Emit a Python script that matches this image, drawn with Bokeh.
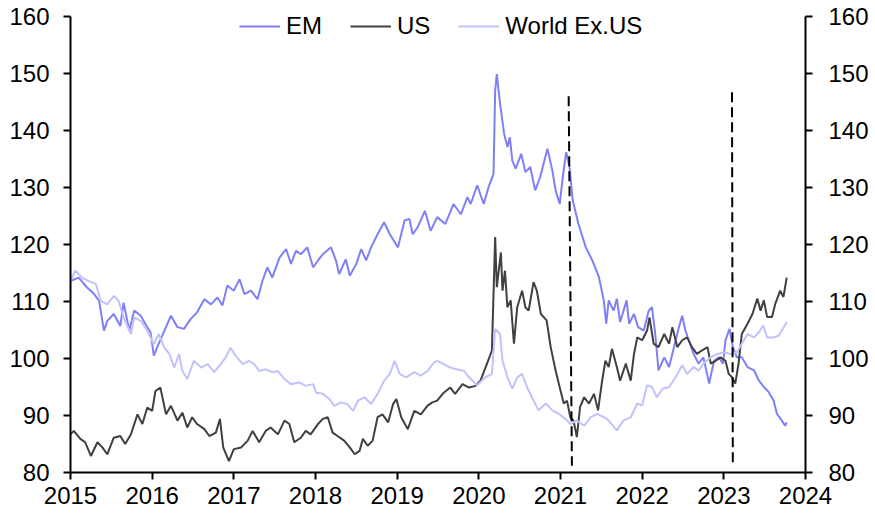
from bokeh.plotting import figure
from bokeh.models import LinearAxis, FixedTicker, Legend, LegendItem, Range1d
from bokeh.embed import file_html
from bokeh.resources import INLINE

# ---- data (decimal years) ----
em_x = [2015.00, 2015.10, 2015.20, 2015.29, 2015.35, 2015.41, 2015.45, 2015.53, 2015.61, 2015.65,
        2015.72, 2015.78, 2015.86, 2015.94, 2015.98, 2016.02, 2016.06, 2016.15, 2016.23, 2016.31,
        2016.39, 2016.47, 2016.55, 2016.64, 2016.72, 2016.80, 2016.86, 2016.92, 2017.00, 2017.07,
        2017.13, 2017.21, 2017.29, 2017.35, 2017.41, 2017.47, 2017.56, 2017.64, 2017.70, 2017.76,
        2017.82, 2017.90, 2017.97, 2018.03, 2018.09, 2018.19, 2018.25, 2018.29, 2018.37, 2018.42,
        2018.50, 2018.56, 2018.62, 2018.68, 2018.76, 2018.84, 2018.91, 2019.01, 2019.09, 2019.15,
        2019.19, 2019.25, 2019.34, 2019.41, 2019.49, 2019.59, 2019.69, 2019.78, 2019.86, 2019.90,
        2019.98, 2020.06, 2020.12, 2020.18, 2020.20, 2020.22, 2020.26, 2020.31, 2020.35, 2020.38,
        2020.41, 2020.45, 2020.52, 2020.57, 2020.63, 2020.69, 2020.75, 2020.84, 2020.90, 2020.94,
        2020.99, 2021.03, 2021.07, 2021.11, 2021.15, 2021.22, 2021.31, 2021.39, 2021.47, 2021.53,
        2021.56, 2021.59, 2021.65, 2021.69, 2021.73, 2021.81, 2021.84, 2021.90, 2021.95, 2022.02,
        2022.08, 2022.12, 2022.16, 2022.20, 2022.27, 2022.33, 2022.39, 2022.45, 2022.49, 2022.53,
        2022.57, 2022.63, 2022.69, 2022.75, 2022.82, 2022.88, 2022.94, 2022.99, 2023.02, 2023.07,
        2023.11, 2023.16, 2023.22, 2023.29, 2023.37, 2023.43, 2023.49, 2023.55, 2023.61, 2023.65,
        2023.71, 2023.75, 2023.77]
em_y = [113.6, 114.2, 112.5, 111.3, 110.1, 104.9, 106.6, 107.8, 105.7, 109.8,
        104.9, 108.4, 107.5, 105.5, 104.6, 100.5, 101.9, 104.9, 107.5, 105.5,
        105.2, 106.9, 108.1, 110.4, 109.5, 110.7, 109.3, 112.8, 111.9, 113.9,
        111.3, 111.9, 110.4, 113.6, 116.0, 114.2, 117.7, 119.2, 116.6, 118.9,
        118.3, 119.5, 116.0, 117.2, 118.3, 119.5, 117.2, 114.8, 117.4, 114.5,
        116.6, 119.2, 117.2, 119.5, 121.8, 123.9, 121.8, 119.5, 124.2, 124.5,
        121.8, 123.0, 125.9, 122.4, 124.8, 123.6, 127.1, 125.3, 128.3, 127.1,
        130.4, 127.1, 130.1, 132.4, 147.0, 149.9, 144.7, 139.4, 137.1, 138.8,
        134.7, 133.3, 135.9, 132.7, 133.6, 129.5, 131.8, 136.8, 133.0, 129.5,
        127.1, 132.1, 136.2, 133.6, 127.7, 123.6, 119.5, 117.2, 114.3, 110.2,
        106.1, 110.2, 108.4, 110.5, 106.4, 110.2, 106.1, 107.8, 105.5, 104.9,
        108.4, 109.0, 104.3, 97.9, 100.2, 98.5, 102.0, 105.5, 107.5, 104.9,
        103.2, 100.8, 99.1, 100.2, 95.6, 99.6, 100.2, 99.1, 103.2, 105.2,
        102.0, 100.2, 100.2, 98.5, 97.9, 96.1, 95.0, 94.1, 92.6, 90.3,
        89.1, 88.2, 88.8]

us_x = [2015.00, 2015.04, 2015.12, 2015.18, 2015.25, 2015.33, 2015.39, 2015.45, 2015.53, 2015.61,
        2015.67, 2015.74, 2015.82, 2015.88, 2015.94, 2016.00, 2016.04, 2016.10, 2016.17, 2016.23,
        2016.31, 2016.37, 2016.43, 2016.49, 2016.55, 2016.64, 2016.70, 2016.78, 2016.83, 2016.87,
        2016.94, 2017.00, 2017.09, 2017.17, 2017.23, 2017.31, 2017.39, 2017.45, 2017.54, 2017.62,
        2017.68, 2017.74, 2017.82, 2017.88, 2017.94, 2018.03, 2018.09, 2018.15, 2018.21, 2018.27,
        2018.35, 2018.42, 2018.48, 2018.54, 2018.58, 2018.64, 2018.70, 2018.76, 2018.82, 2018.89,
        2018.95, 2018.99, 2019.05, 2019.13, 2019.21, 2019.29, 2019.37, 2019.43, 2019.49, 2019.57,
        2019.65, 2019.71, 2019.80, 2019.88, 2019.96, 2020.02, 2020.10, 2020.16, 2020.20, 2020.22,
        2020.27, 2020.29, 2020.32, 2020.35, 2020.39, 2020.43, 2020.47, 2020.53, 2020.57, 2020.61,
        2020.67, 2020.71, 2020.76, 2020.83, 2020.88, 2020.94, 2021.00, 2021.04, 2021.08, 2021.12,
        2021.16, 2021.20, 2021.24, 2021.29, 2021.35, 2021.41, 2021.46, 2021.51, 2021.55, 2021.59,
        2021.63, 2021.69, 2021.73, 2021.80, 2021.86, 2021.90, 2021.94, 2022.00, 2022.06, 2022.09,
        2022.14, 2022.20, 2022.27, 2022.33, 2022.37, 2022.43, 2022.49, 2022.55, 2022.61, 2022.67,
        2022.73, 2022.80, 2022.84, 2022.90, 2022.96, 2023.02, 2023.06, 2023.10, 2023.14, 2023.18,
        2023.22, 2023.29, 2023.35, 2023.41, 2023.45, 2023.49, 2023.53, 2023.59, 2023.63, 2023.69,
        2023.73, 2023.77]
us_y = [86.7, 87.3, 85.9, 85.3, 82.9, 85.3, 84.4, 83.2, 86.1, 86.4,
        85.0, 86.7, 90.2, 88.5, 91.4, 90.8, 94.3, 94.9, 90.2, 91.7,
        89.1, 90.5, 87.9, 89.7, 88.5, 87.6, 86.4, 87.0, 89.4, 84.4,
        82.0, 84.1, 84.4, 85.6, 87.3, 85.3, 87.3, 87.9, 86.7, 89.1,
        88.5, 85.3, 86.1, 87.3, 86.7, 88.5, 89.4, 89.7, 87.0, 86.4,
        85.6, 84.4, 83.2, 83.8, 85.9, 84.7, 85.6, 89.7, 90.2, 88.8,
        92.0, 92.9, 89.7, 87.6, 90.8, 90.2, 91.7, 92.3, 92.6, 94.0,
        94.9, 93.8, 95.5, 94.9, 95.2, 96.1, 99.1, 101.4, 121.3, 112.5,
        118.6, 111.9, 115.4, 109.0, 110.2, 102.6, 109.0, 111.9, 109.0, 108.4,
        113.4, 111.9, 107.8, 106.7, 102.0, 97.9, 94.4, 92.1, 92.6, 89.7,
        89.1, 86.2, 91.5, 93.2, 92.1, 93.8, 90.9, 96.1, 99.6, 98.5,
        101.7, 98.5, 96.1, 99.1, 96.1, 100.8, 103.7, 103.2, 104.9, 107.2,
        102.6, 102.0, 104.3, 102.6, 105.5, 102.0, 103.2, 103.7, 102.0, 100.8,
        101.4, 102.0, 99.1, 99.6, 100.2, 99.6, 97.3, 96.7, 95.6, 99.1,
        104.3, 106.1, 107.8, 110.5, 108.4, 110.2, 107.3, 107.3, 109.6, 111.9,
        110.8, 114.2]

wx_x = [2015.00, 2015.06, 2015.14, 2015.22, 2015.31, 2015.37, 2015.45, 2015.53, 2015.59, 2015.65,
        2015.74, 2015.78, 2015.86, 2015.94, 2016.02, 2016.08, 2016.15, 2016.21, 2016.27, 2016.33,
        2016.37, 2016.43, 2016.51, 2016.60, 2016.68, 2016.76, 2016.84, 2016.90, 2016.96, 2017.02,
        2017.11, 2017.19, 2017.25, 2017.31, 2017.39, 2017.47, 2017.54, 2017.62, 2017.70, 2017.80,
        2017.88, 2017.97, 2018.01, 2018.09, 2018.17, 2018.23, 2018.31, 2018.39, 2018.46, 2018.52,
        2018.60, 2018.68, 2018.76, 2018.84, 2018.91, 2018.97, 2019.03, 2019.11, 2019.21, 2019.29,
        2019.37, 2019.45, 2019.49, 2019.57, 2019.65, 2019.73, 2019.82, 2019.88, 2019.98, 2020.08,
        2020.16, 2020.20, 2020.26, 2020.29, 2020.35, 2020.41, 2020.47, 2020.53, 2020.59, 2020.65,
        2020.73, 2020.82, 2020.90, 2020.98, 2021.06, 2021.12, 2021.20, 2021.29, 2021.37, 2021.45,
        2021.57, 2021.69, 2021.77, 2021.86, 2021.94, 2022.00, 2022.06, 2022.12, 2022.18, 2022.25,
        2022.33, 2022.41, 2022.49, 2022.55, 2022.63, 2022.69, 2022.75, 2022.84, 2022.92, 2023.00,
        2023.08, 2023.16, 2023.22, 2023.29, 2023.37, 2023.43, 2023.48, 2023.53, 2023.61, 2023.67,
        2023.71, 2023.77]
wx_y = [113.6, 115.4, 114.2, 113.6, 113.1, 110.1, 109.5, 111.0, 110.1, 107.2,
        104.3, 107.2, 106.6, 104.9, 102.5, 104.3, 101.9, 100.8, 98.4, 100.8,
        97.8, 96.4, 99.6, 98.4, 99.0, 97.6, 99.0, 100.2, 101.9, 100.5,
        99.0, 99.6, 99.0, 97.8, 98.1, 97.6, 97.8, 96.4, 95.5, 95.8,
        95.2, 95.5, 94.0, 93.8, 92.9, 91.7, 92.3, 92.0, 90.8, 92.6,
        93.2, 92.0, 93.8, 96.1, 97.3, 99.6, 97.3, 96.7, 97.6, 97.0,
        97.8, 99.3, 99.6, 99.0, 98.4, 98.1, 97.8, 96.7, 95.3, 96.7,
        97.3, 105.2, 104.3, 99.6, 96.7, 94.7, 96.7, 97.3, 95.0, 93.2,
        90.9, 92.1, 90.9, 90.3, 89.4, 88.5, 89.1, 88.2, 89.7, 90.3,
        89.4, 87.4, 89.1, 89.7, 92.1, 91.8, 95.3, 95.0, 93.2, 94.7,
        95.0, 96.7, 98.8, 97.3, 98.5, 97.9, 99.1, 100.2, 100.8, 101.1,
        100.8, 101.1, 102.6, 104.3, 103.7, 104.6, 105.8, 103.7, 103.7, 104.0,
        104.9, 106.4]

series_names = ["EM", "US", "World Ex.US"]
series_colors = ["#7f7ff6", "#404040", "#c2c2fb"]

x_ticks = [2015, 2016, 2017, 2018, 2019, 2020, 2021, 2022, 2023, 2024]
x_tick_labels = ["2015", "2016", "2017", "2018", "2019", "2020", "2021", "2022", "2023", "2024"]
y_ticks = [80, 90, 100, 110, 120, 130, 140, 150, 160]
y_axis_bounds = (80, 160)

# dashed event markers
vline_x_top = [2021.10, 2023.10]
vline_x_bottom = [2021.14, 2023.11]
vline_y_top = [146.0, 146.7]
vline_y_bottom = [81.2, 81.6]

FONT = "Liberation Sans"

# y range extends slightly above 160 (axis lines stop at 160) so the legend sits inside the frame
p = figure(width=875, height=514, x_range=Range1d(2015, 2024), y_range=Range1d(80, 161.93),
           output_backend="svg", toolbar_location=None,
           min_border_left=70, min_border_right=70, min_border_top=5, min_border_bottom=42)
p.outline_line_color = None
p.xgrid.visible = False
p.ygrid.visible = False
p.background_fill_color = "white"
p.border_fill_color = "white"

def style_axis(ax):
    ax.axis_line_width = 2
    ax.axis_line_color = "black"
    ax.major_tick_line_width = 2
    ax.major_tick_line_color = "black"
    ax.major_tick_in = 0
    ax.major_tick_out = 7
    ax.minor_tick_line_color = None
    ax.major_label_text_font = FONT
    ax.major_label_text_font_size = "24px"
    ax.major_label_text_color = "black"

p.xaxis.ticker = FixedTicker(ticks=x_ticks)
p.xaxis.major_label_overrides = {t: l for t, l in zip(x_ticks, x_tick_labels)}
p.xaxis.major_label_standoff = 7
style_axis(p.xaxis[0])

p.yaxis.ticker = FixedTicker(ticks=y_ticks)
p.yaxis.bounds = y_axis_bounds
p.yaxis.major_label_standoff = 14
style_axis(p.yaxis[0])

right = LinearAxis(ticker=FixedTicker(ticks=y_ticks), bounds=y_axis_bounds, major_label_standoff=16)
style_axis(right)
p.add_layout(right, "right")

r_em = p.line(em_x, em_y, line_color=series_colors[0], line_width=2)
r_us = p.line(us_x, us_y, line_color=series_colors[1], line_width=2)
r_wx = p.line(wx_x, wx_y, line_color=series_colors[2], line_width=2)

p.segment(x0=vline_x_top, y0=vline_y_top, x1=vline_x_bottom, y1=vline_y_bottom,
          line_color="black", line_width=2, line_dash="10 5")

legend = Legend(items=[LegendItem(label=series_names[0], renderers=[r_em]),
                       LegendItem(label=series_names[1], renderers=[r_us]),
                       LegendItem(label=series_names[2], renderers=[r_wx])],
                orientation="horizontal", location=(169, 432),
                glyph_width=41, glyph_height=28, label_height=28, label_standoff=6,
                spacing=28, padding=0, margin=0,
                border_line_color=None, background_fill_alpha=0,
                label_text_font=FONT, label_text_font_size="24px", label_text_color="black")
p.add_layout(legend, "center")

open("out.html", "w").write(file_html(p, INLINE))
